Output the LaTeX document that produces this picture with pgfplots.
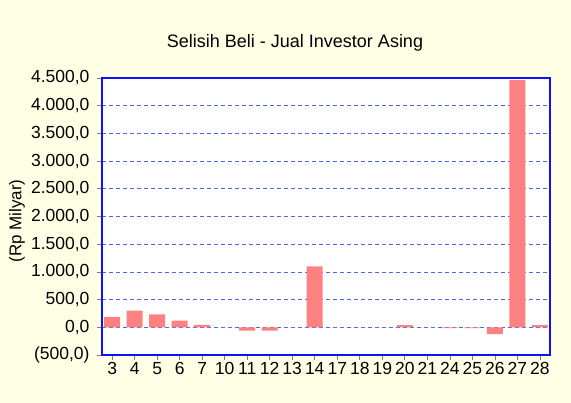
\documentclass[border=0pt]{standalone}
\usepackage{pgfplots}
\pgfplotsset{compat=1.18}
\usepackage{fontspec}
\setmainfont{Liberation Sans}
\definecolor{bgcream}{HTML}{FFFFE6}
\definecolor{barred}{HTML}{FF8080}
\definecolor{gridblue}{HTML}{4A6AE0}
\definecolor{frameblue}{HTML}{1010FF}

\begin{document}
\begin{tikzpicture}[x=1pt,y=1pt]
  \fill[bgcream] (0,0) rectangle (571,403);
  \useasboundingbox (0,0) rectangle (571,403);
  \begin{axis}[
      at={(102pt,48pt)}, anchor=south west,
      scale only axis,
      width=448pt, height=277pt,
      axis background/.style={fill=white},
      axis line style={frameblue, line width=1.2pt},
      xmin=-0.45, xmax=19.45,
      ymin=-500, ymax=4500,
      xtick=data,
      xticklabels={3,4,5,6,7,10,11,12,13,14,17,18,19,20,21,24,25,26,27,28},
      ytick={-500,0,500,1000,1500,2000,2500,3000,3500,4000,4500},
      yticklabels={{(500,0)},{0,0},{500,0},{1.000,0},{1.500,0},{2.000,0},{2.500,0},{3.000,0},{3.500,0},{4.000,0},{4.500,0}},
      tick align=outside,
      major tick length=5pt,
      tick style={gray, line width=0.6pt},
      xtick pos=bottom, ytick pos=left,
      ymajorgrids,
      grid style={gridblue, dash pattern=on 4pt off 3pt, line width=0.7pt},
      ticklabel style={font=\fontsize{17.5}{20}\selectfont},
      yticklabel style={xshift=-4pt},
      xticklabel style={yshift=1pt},
      ybar, bar width=16pt,
    ]
    \addplot[fill=barred, draw=none] coordinates {
      (0,190) (1,300) (2,235) (3,120) (4,45) (5,0) (6,-60) (7,-60)
      (8,0) (9,1100) (10,0) (11,0) (12,0) (13,40) (14,0) (15,-15)
      (16,-15) (17,-125) (18,4460) (19,40)
    };
  \end{axis}
  \node[font=\fontsize{18}{21}\selectfont] at (295,360) {Selisih Beli - Jual Investor Asing};
  \node[font=\fontsize{17}{20}\selectfont, rotate=90] at (17,182) {(Rp Milyar)};
\end{tikzpicture}
\end{document}
